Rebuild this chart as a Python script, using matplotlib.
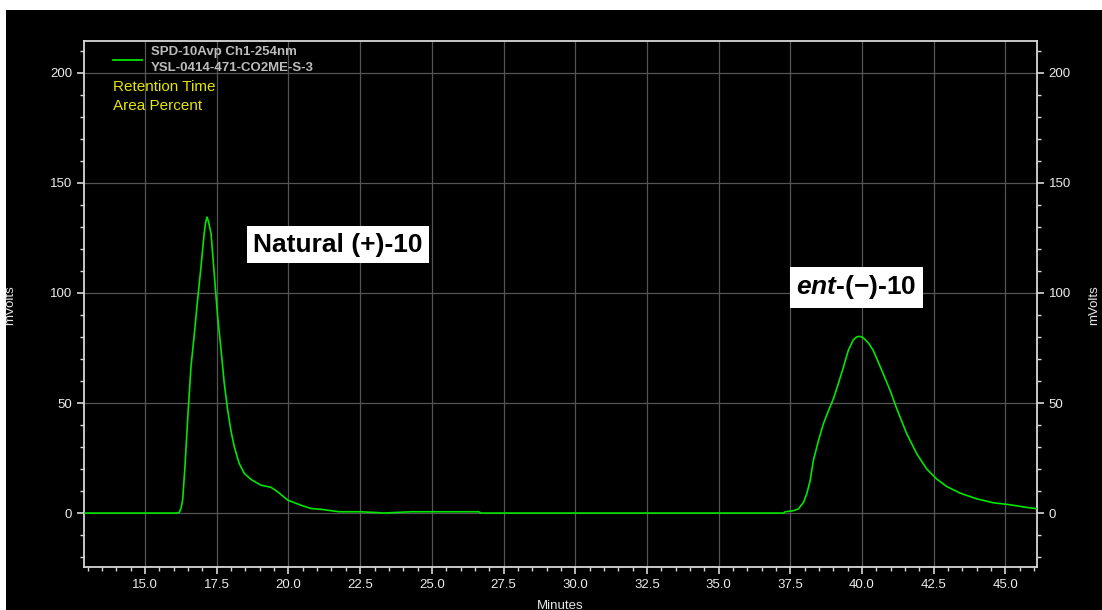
import matplotlib
matplotlib.use('Agg')
import matplotlib.pyplot as plt
from matplotlib.patches import Rectangle
from matplotlib.ticker import MultipleLocator

plt.rcParams['font.family'] = ['Liberation Sans', 'DejaVu Sans']
plt.rcParams['mathtext.fontset'] = 'custom'
plt.rcParams['mathtext.it'] = 'Liberation Sans:italic:bold'
plt.rcParams['mathtext.rm'] = 'Liberation Sans:bold'

# chromatogram trace (minutes, mVolts)
time = [12.9, 16.10, 16.19, 16.25, 16.31, 16.39, 16.49, 16.60, 16.72, 16.83, 16.95,
        17.06, 17.11, 17.16, 17.21, 17.30, 17.41, 17.53, 17.65, 17.76, 17.88, 17.99, 18.11,
        18.28, 18.46, 18.69, 19.04, 19.39, 19.62, 19.97, 20.43, 20.78, 21.13,
        21.77, 22.52, 23.20, 23.28, 24.26, 26.64, 26.70, 37.26, 37.32, 37.61,
        37.78, 37.96, 38.07, 38.19, 38.30, 38.48, 38.65, 38.83, 39.00, 39.17,
        39.35, 39.52, 39.70, 39.82, 39.92, 40.02, 40.11, 40.25, 40.39, 40.69, 40.98, 41.21, 41.56,
        41.91, 42.25, 42.60, 42.95, 43.41, 43.99, 44.57, 45.15, 45.73, 46.1]
signal = [0, 0, 0.3, 2.0, 5.9, 21, 43.8, 66.5, 81.7, 96.8, 112,
          127, 132, 134.5, 132.5, 127, 109, 89.2, 74, 59, 46.8, 37.7, 30.1,
          22.6, 18, 15.3, 12.7, 11.7, 9.7, 5.9, 3.6, 2.1, 1.7,
          0.6, 0.6, 0.15, 0, 0.6, 0.6, 0, 0, 0.6, 1.1,
          1.9, 4.9, 8.7, 14.7, 23.8, 32.9, 40.5, 46.6, 51.9, 58.7,
          66.3, 73.9, 78.8, 80.1, 80.3, 79.8, 78.8, 76.8, 73.9, 64.8, 55.7, 47.4, 36,
          26.9, 20.1, 15.5, 12.1, 9.1, 6.5, 4.7, 3.8, 2.6, 2.0]

trace_name = 'SPD-10Avp Ch1-254nm'
sample_name = 'YSL-0414-471-CO2ME-S-3'
info_lines = ['Retention Time', 'Area Percent']
peak_labels = ['Natural (+)-10', '$\\mathit{ent}$-(\u2212)-10']
peak_label_pos = [(18.78, 122), (37.70, 102.5)]

W, H = 1102, 610
fig = plt.figure(figsize=(W / 100, H / 100), dpi=100, facecolor='white')
fig.patches.append(Rectangle((6 / W, 0), 1 - 6 / W, 1 - 10 / H, transform=fig.transFigure,
                             facecolor='black', edgecolor='none', zorder=-10))

ax = fig.add_axes([84 / W, 1 - 567 / H, (1037 - 84) / W, (567 - 41) / H])
ax.set_facecolor('black')
ax.plot(time, signal, color='#00e600', lw=1.2, zorder=3)

ax.set_xlim(12.87, 46.1)
ax.set_ylim(-24.5, 214.5)
ax.xaxis.set_major_locator(MultipleLocator(2.5))
ax.xaxis.set_minor_locator(MultipleLocator(0.5))
ax.yaxis.set_major_locator(MultipleLocator(50))
ax.yaxis.set_minor_locator(MultipleLocator(10))
ax.xaxis.set_major_formatter(plt.FormatStrFormatter('%.1f'))

ax.grid(True, which='major', color='#555555', lw=0.9)
for s in ax.spines.values():
    s.set_color('#d8d8d8')
    s.set_linewidth(1.3)
ax.tick_params(which='both', colors='#d8d8d8', labelcolor='#ececec', labelsize=9.5,
               right=True, labelright=True)
ax.tick_params(which='major', length=5, width=1.2)
ax.tick_params(which='minor', length=3, width=1.0)

fig.text(10 / W, 0.5, 'mVolts', rotation=90, ha='center', va='center', color='#e8e8e8', fontsize=9.5)
fig.text(1094 / W, 0.5, 'mVolts', rotation=90, ha='center', va='center', color='#e8e8e8', fontsize=9.5)
fig.text(560 / W, 1 - 600 / H, 'Minutes', ha='center', va='top', color='#e8e8e8', fontsize=9.5)

# legend block
ax.plot([(113 - 84) / (1037 - 84), (142 - 84) / (1037 - 84)], [1 - (60 - 41) / 526] * 2,
        transform=ax.transAxes, color='#00e600', lw=1.3)
ax.text((151 - 84) / 953, 1 - (52 - 41) / 526, trace_name, transform=ax.transAxes,
        color='#bdbdbd', fontsize=9.5, fontweight='bold', va='center')
ax.text((151 - 84) / 953, 1 - (68 - 41) / 526, sample_name, transform=ax.transAxes,
        color='#bdbdbd', fontsize=9.5, fontweight='bold', va='center')
for i, line in enumerate(info_lines):
    ax.text((113 - 84) / 953, 1 - (87 + 19 * i - 41) / 526, line, transform=ax.transAxes,
            color='#e6e600', fontsize=11, va='center')

for lab, (x, y) in zip(peak_labels, peak_label_pos):
    ax.text(x, y, lab, fontsize=19, fontweight='bold', color='black', ha='left', va='center',
            zorder=5, bbox=dict(facecolor='white', edgecolor='none', pad=4.5))

fig.savefig('out.png', dpi=100, facecolor=fig.get_facecolor())
